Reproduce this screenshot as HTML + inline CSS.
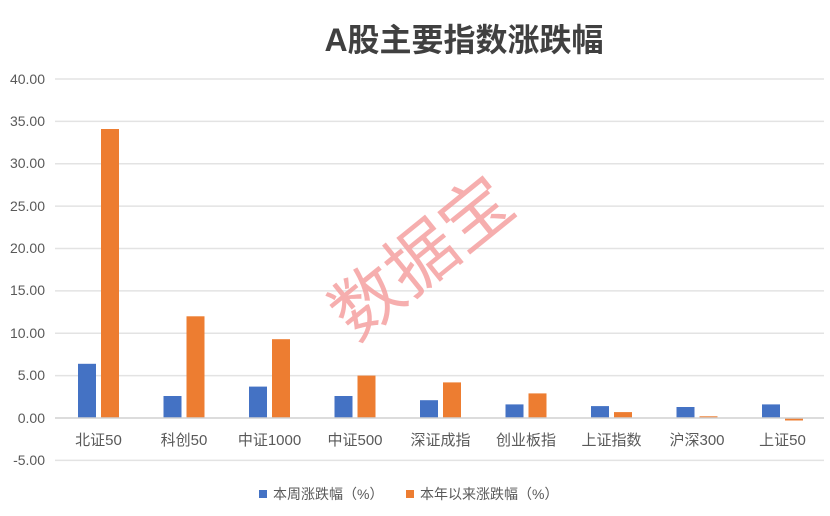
<!DOCTYPE html>
<html><head><meta charset="utf-8"><style>
body{margin:0;background:#fff;}
svg{display:block;font-family:"Liberation Sans","Noto Sans CJK SC",sans-serif;}
</style></head><body>
<svg width="830" height="516" viewBox="0 0 830 516">
<rect width="830" height="516" fill="#fff"/>
<text x="464" y="51" text-anchor="middle" font-size="32" font-weight="bold" fill="#404040">A股主要指数涨跌幅</text>
<g stroke="#e3e3e3" stroke-width="1.5">
<line x1="55" x2="824" y1="79" y2="79"/>
<line x1="55" x2="824" y1="121.4" y2="121.4"/>
<line x1="55" x2="824" y1="163.8" y2="163.8"/>
<line x1="55" x2="824" y1="206.1" y2="206.1"/>
<line x1="55" x2="824" y1="248.5" y2="248.5"/>
<line x1="55" x2="824" y1="290.9" y2="290.9"/>
<line x1="55" x2="824" y1="333.3" y2="333.3"/>
<line x1="55" x2="824" y1="375.6" y2="375.6"/>
<line x1="55" x2="824" y1="460.4" y2="460.4"/>
</g>
<g font-size="14" fill="#595959" text-anchor="end">
<text x="45" y="84">40.00</text>
<text x="45" y="126">35.00</text>
<text x="45" y="168">30.00</text>
<text x="45" y="211">25.00</text>
<text x="45" y="253">20.00</text>
<text x="45" y="295">15.00</text>
<text x="45" y="338">10.00</text>
<text x="45" y="380">5.00</text>
<text x="45" y="423">0.00</text>
<text x="45" y="465">-5.00</text>
</g>
<text transform="translate(422,258) rotate(-39)" text-anchor="middle" font-size="70" fill="#f5a0a0" fill-opacity="0.85" y="24">数据宝</text>
<g fill="#4472c4">
<rect x="78" y="363.8" width="18" height="54.2"/>
<rect x="163.5" y="396" width="18" height="22"/>
<rect x="249" y="386.6" width="18" height="31.4"/>
<rect x="334.5" y="396" width="18" height="22"/>
<rect x="420" y="400.2" width="18" height="17.8"/>
<rect x="505.5" y="404.4" width="18" height="13.6"/>
<rect x="591" y="406.1" width="18" height="11.9"/>
<rect x="676.5" y="407" width="18" height="11"/>
<rect x="762" y="404.4" width="18" height="13.6"/>
</g>
<g fill="#ed7d31">
<rect x="101" y="129" width="18" height="289"/>
<rect x="186.5" y="316.3" width="18" height="101.7"/>
<rect x="272" y="339.2" width="18" height="78.8"/>
<rect x="357.5" y="375.6" width="18" height="42.4"/>
<rect x="443" y="382.4" width="18" height="35.6"/>
<rect x="528.5" y="393.4" width="18" height="24.6"/>
<rect x="614" y="412.1" width="18" height="5.9"/>
<rect x="699.5" y="416.3" width="18" height="1.7"/>
<rect x="785" y="418" width="18" height="2.5"/>
</g>
<line x1="55" x2="824" y1="418" y2="418" stroke="#d0d0d0" stroke-width="1.5"/>
<g font-size="15" fill="#595959" text-anchor="middle">
<text x="98.5" y="445">北证50</text>
<text x="184" y="445">科创50</text>
<text x="269.5" y="445">中证1000</text>
<text x="355" y="445">中证500</text>
<text x="440.5" y="445">深证成指</text>
<text x="526" y="445">创业板指</text>
<text x="611.5" y="445">上证指数</text>
<text x="697" y="445">沪深300</text>
<text x="782.5" y="445">上证50</text>
</g>
<rect x="259" y="490" width="8" height="8" fill="#4472c4"/>
<text x="273" y="499" font-size="14" fill="#595959">本周涨跌幅（%）</text>
<rect x="406" y="490" width="8" height="8" fill="#ed7d31"/>
<text x="420" y="499" font-size="14" fill="#595959">本年以来涨跌幅（%）</text>
</svg>
</body></html>
